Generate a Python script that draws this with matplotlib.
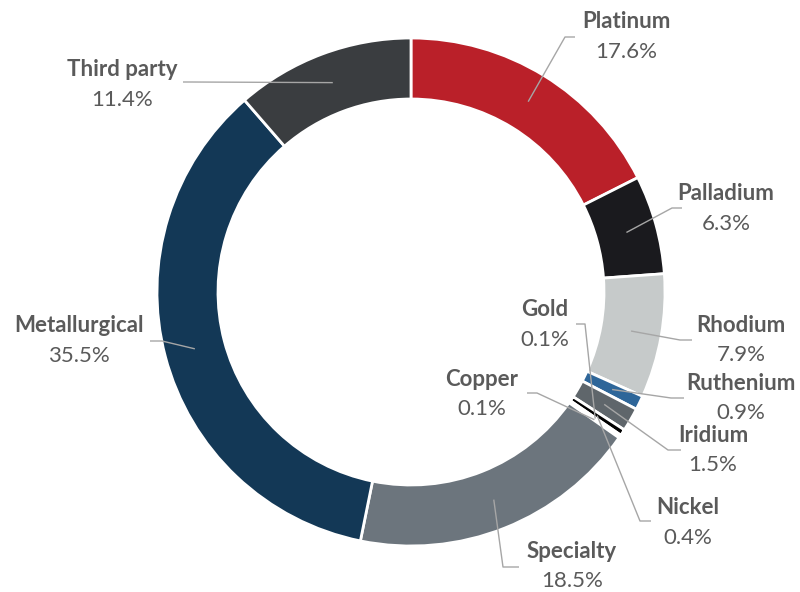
import numpy as np
import matplotlib
matplotlib.use("Agg")
import matplotlib.pyplot as plt

plt.rcParams['font.family'] = ['Lato', 'DejaVu Sans']

# data (clockwise from 12 o'clock)
names = ['Platinum', 'Palladium', 'Rhodium', 'Ruthenium', 'Iridium', 'Nickel',
         'Gold', 'Copper', 'Specialty', 'Metallurgical', 'Third party']
shares = [17.6, 6.3, 7.9, 0.9, 1.5, 0.4, 0.1, 0.1, 18.5, 35.5, 11.4]
colors = ['#BA2029', '#1A1A1E', '#C6CACA', '#2E6699', '#5F666B', '#000000',
          '#C9A53B', '#B87333', '#6C757D', '#133856', '#3A3D40']

# label layout in image pixels: elbow x, elbow y, line end x, text centre x, text centre y
label_pos = {
    'Platinum':      (565, 37, 575, 626, 37),
    'Palladium':     (672, 208, 682, 726, 209),
    'Rhodium':       (680, 340, 692, 741, 340),
    'Ruthenium':     (671, 398, 684, 741, 398),
    'Iridium':       (668, 450, 681, 713, 450),
    'Nickel':        (640, 521, 651, 688, 523),
    'Gold':          (585, 324, 576, 545, 325),
    'Copper':        (537, 393, 527, 482, 394),
    'Specialty':     (503, 567, 519, 572, 566),
    'Metallurgical': (162, 341, 150, 79, 341),
    'Third party':   (190, 82, 183, 122, 85),
}

W, H = 800, 592
cx, cy = 411, 292
r_out, r_in = 254, 193

fig = plt.figure(figsize=(8, 5.92), dpi=100)
ax = fig.add_axes([0, 0, 1, 1])

wedges, _ = ax.pie(shares, colors=colors, startangle=90, counterclock=False,
                   center=(cx, H - cy), radius=r_out,
                   wedgeprops=dict(width=r_out - r_in, edgecolor='white', linewidth=2))
ax.set_xlim(0, W)
ax.set_ylim(0, H)
ax.set_aspect('equal')
ax.axis('off')

r_mid = (r_out + r_in) / 2
line_color = '#A6A6A6'
text_color = '#5A5A5A'
for w, name, val in zip(wedges, names, shares):
    ang = np.deg2rad((w.theta1 + w.theta2) / 2)
    sx = cx + r_mid * np.cos(ang)
    sy = cy - r_mid * np.sin(ang)
    ex, ey, endx, tx, ty = label_pos[name]
    ax.plot([sx, ex, endx], [H - sy, H - ey, H - ey], color=line_color, lw=1,
            solid_capstyle='butt', zorder=3)
    ax.text(tx, H - ty + 15, name, ha='center', va='center', fontsize=16,
            fontweight='bold', color=text_color)
    ax.text(tx, H - ty - 15, f'{val:.1f}%', ha='center', va='center', fontsize=16,
            color=text_color)

fig.savefig('out.png', dpi=100)
